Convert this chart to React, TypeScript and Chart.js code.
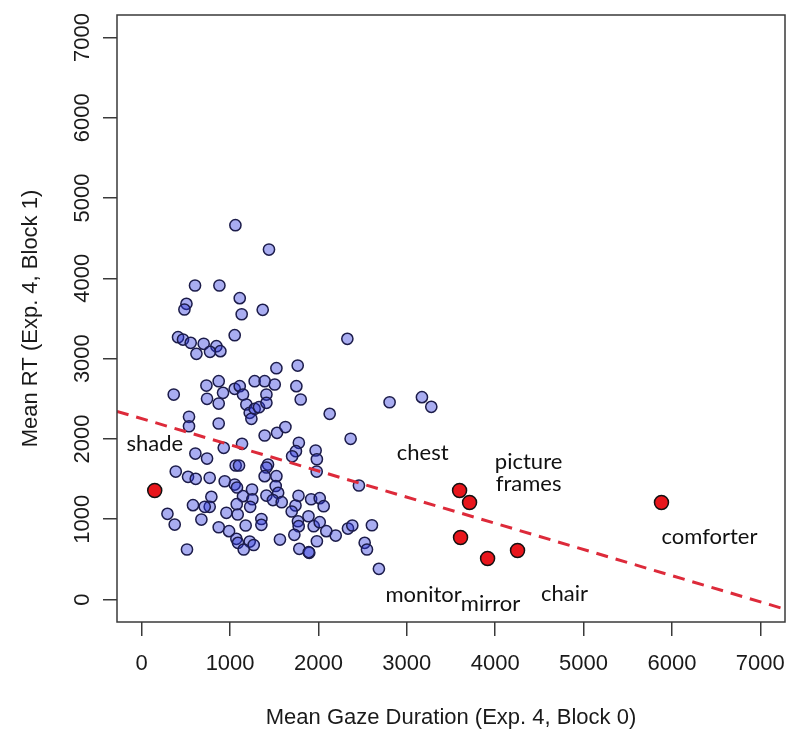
import React, { useEffect, useRef } from "react";
import { Chart, registerables } from "chart.js";
Chart.register(...registerables);

const blueX = [1060, 1440, 603, 879, 1109, 506, 483, 1131, 1369, 1052, 411, 467, 554, 701, 845, 890, 619, 773, 1524, 1765, 2327,
  362, 535, 535, 607, 385, 524, 611, 580, 291, 373, 512,
  732, 739, 871, 920, 871, 1052, 1109, 1146, 1184, 1222, 1278, 1327, 1241, 1411, 1411, 1278, 1391, 1505, 871, 1391, 1531, 928, 1135,
  739, 1063, 1101, 1429, 1411, 1391, 1524, 769, 939, 1052, 1078, 1248, 1516, 1544, 1146, 1411, 788, 1252, 1485, 1584, 769, 713,
  1075, 1227, 958, 1086, 675, 1354, 1354, 1176, 871, 988, 1564, 1071, 1089, 1222, 1267, 1154,
  1750, 1799, 1626, 1778, 1745, 1702, 1968, 1982, 1980, 1774, 1917, 2014, 2059, 1740, 1697, 1887, 1768, 1776, 1946, 2014, 2089,
  2195, 1727, 1783, 1896, 1890, 1982, 2127, 2805, 3171, 3277, 2364, 2458, 2334, 2383, 2605, 2523, 2549, 2684];
const blueY = [4662, 4359, 3911, 3911, 3753, 3683, 3612, 3553, 3608, 3292, 3267, 3238, 3197, 3185, 3155, 3093, 3060, 3085, 2881, 2914, 3247,
  2553, 2276, 2158, 1818, 1594, 1528, 1503, 1175, 1067, 934, 623,
  2665, 2500, 2719, 2574, 2441, 2624, 2657, 2553, 2429, 2325, 2375, 2395, 2251, 2553, 2450, 2719, 2719, 2678, 2192, 2043, 2076, 1889, 1939,
  1756, 1669, 1669, 1681, 1644, 1536, 1536, 1516, 1473, 1432, 1395, 1370, 1414, 1329, 1287, 1295, 1279, 1249, 1239, 1212, 1155, 1155,
  1187, 1155, 1080, 1059, 996, 1003, 930, 922, 900, 851, 747, 756, 706, 722, 679, 623,
  2657, 2491, 2148, 1952, 1847, 1784, 1856, 1747, 1594, 1292, 1249, 1262, 1162, 1171, 1096, 1037, 975, 913, 913, 963, 851,
  797, 806, 631, 582, 590, 726, 2313, 2457, 2520, 2400, 2002, 1420, 884, 922, 925, 706, 623, 382];

const redX = [147, 3597, 3710, 3608, 3914, 4253, 5882];
const redY = [1358, 1358, 1208, 772, 511, 610, 1208];

const labelText = ["shade", "chest", "picture\nframes", "comforter", "chair", "mirror", "monitor"];
const labelX = [147, 3179, 4378, 6425, 4785, 3948, 3190];
const labelY = [1943, 1831, 1582, 785, 75, -50, 62];

const fitX = [-280, 7280];
const fitY = [2344, -120];

const tickValues = [0, 1000, 2000, 3000, 4000, 5000, 6000, 7000];
const axisMin = -280;
const axisMax = 7280;
const xTitle = "Mean Gaze Duration (Exp. 4, Block 0)";
const yTitle = "Mean RT (Exp. 4, Block 1)";

const AXIS_FONT = '22px "Liberation Sans", Arial, Helvetica, sans-serif';
const LABEL_FONT = '22px Lato, "Open Sans", sans-serif';

const textPlugin = {
  id: "rText",
  afterDraw(chart: any) {
    const { ctx, chartArea: a } = chart;
    const x = chart.scales.x;
    const y = chart.scales.y;
    ctx.save();
    ctx.strokeStyle = "#3a3a3a";
    ctx.lineWidth = 1.5;
    ctx.strokeRect(a.left, a.top, a.right - a.left, a.bottom - a.top);

    ctx.fillStyle = "#1a1a1a";
    ctx.font = AXIS_FONT;
    ctx.textAlign = "center";
    ctx.textBaseline = "middle";
    tickValues.forEach((v) => ctx.fillText(String(v), x.getPixelForValue(v), 664));
    tickValues.forEach((v) => {
      ctx.save();
      ctx.translate(83, y.getPixelForValue(v));
      ctx.rotate(-Math.PI / 2);
      ctx.fillText(String(v), 0, 0);
      ctx.restore();
    });
    ctx.fillText(xTitle, (a.left + a.right) / 2, 718);
    ctx.save();
    ctx.translate(31, (a.top + a.bottom) / 2);
    ctx.rotate(-Math.PI / 2);
    ctx.fillText(yTitle, 0, 0);
    ctx.restore();

    ctx.font = LABEL_FONT;
    ctx.fillStyle = "#111";
    labelText.forEach((t, i) => {
      const lines = t.split("\n");
      const px = x.getPixelForValue(labelX[i]);
      const py = y.getPixelForValue(labelY[i]);
      const lh = 22;
      lines.forEach((ln, j) => ctx.fillText(ln, px, py + (j - (lines.length - 1) / 2) * lh));
    });
    ctx.restore();
  },
};

export default function App() {
  const ref = useRef<HTMLCanvasElement>(null);
  useEffect(() => {
    if (!ref.current) return;
    const axisCommon = {
      type: "linear" as const,
      min: axisMin,
      max: axisMax,
      ticks: { display: false, stepSize: 1000 },
      afterBuildTicks: (scale: any) => {
        scale.ticks = tickValues.map((v) => ({ value: v }));
      },
      grid: {
        display: true,
        drawOnChartArea: false,
        drawTicks: true,
        tickLength: 14,
        color: "#3a3a3a",
        lineWidth: 1.5,
      },
      border: { display: false },
    };
    const chart = new Chart(ref.current, {
      type: "scatter",
      data: {
        datasets: [
          {
            type: "line",
            data: fitX.map((v, i) => ({ x: v, y: fitY[i] })),
            borderColor: "#dd2a3a",
            borderWidth: 3,
            borderDash: [12, 8],
            pointRadius: 0,
            fill: false,
            order: 0,
          } as any,
          {
            data: redX.map((v, i) => ({ x: v, y: redY[i] })),
            backgroundColor: "#e8161c",
            borderColor: "#111111",
            borderWidth: 1.5,
            pointRadius: 7,
            order: 1,
          },
          {
            data: blueX.map((v, i) => ({ x: v, y: blueY[i] })),
            backgroundColor: "rgba(40,50,220,0.4)",
            borderColor: "#1c1c4a",
            borderWidth: 1.5,
            pointRadius: 5.6,
            order: 2,
          },
        ],
      },
      options: {
        animation: false,
        responsive: false,
        layout: { padding: { top: 15, right: 15, left: 0, bottom: 0 } },
        plugins: { legend: { display: false }, tooltip: { enabled: false } },
        scales: {
          x: { ...axisCommon, position: "bottom", afterFit: (s: any) => { s.height = 122; } },
          y: { ...axisCommon, position: "left", afterFit: (s: any) => { s.width = 117; } },
        },
      },
      plugins: [textPlugin],
    });
    return () => chart.destroy();
  }, []);
  return (
    <div style={{ position: "absolute", left: 0, top: 0, width: 800, height: 744, background: "#fff" }}>
      <canvas ref={ref} width={800} height={744} style={{ display: "block" }} />
    </div>
  );
}
